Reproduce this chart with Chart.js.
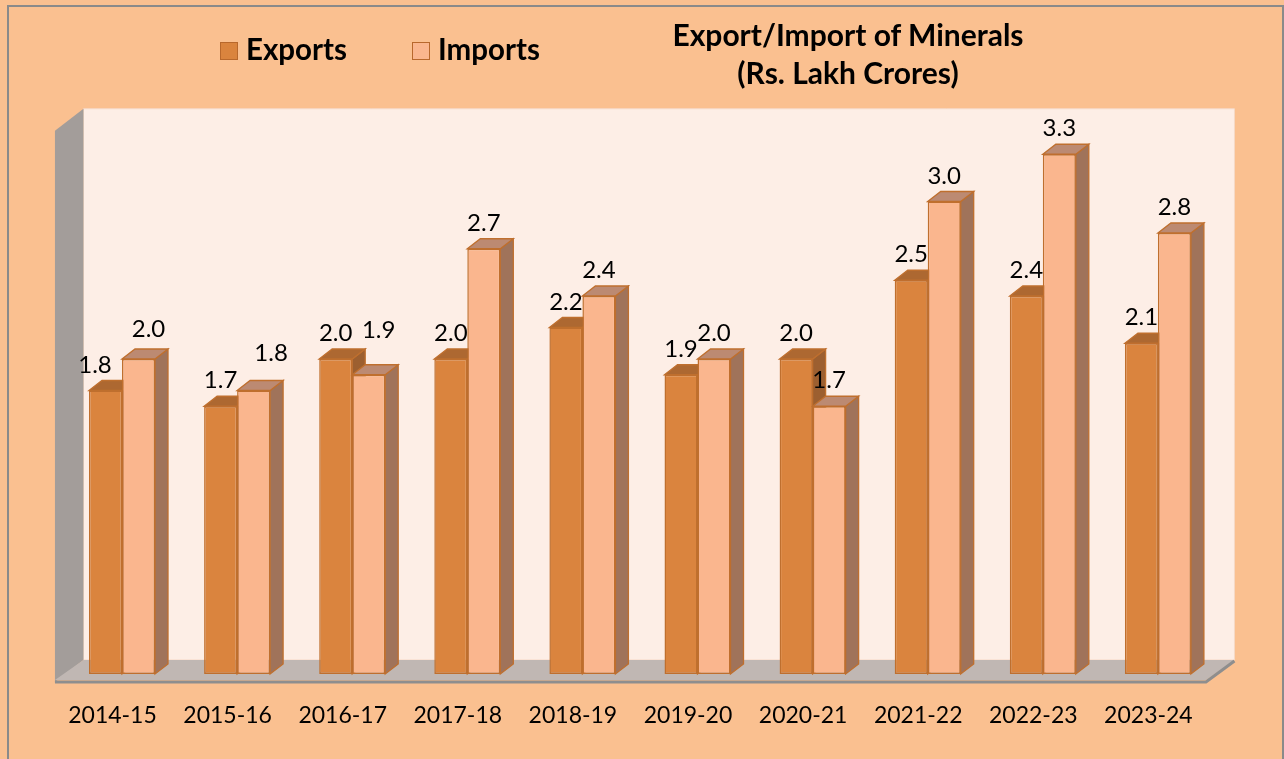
<!DOCTYPE html>
<html><head><meta charset="utf-8">
<script src="https://cdn.jsdelivr.net/npm/chart.js@4.4.1/dist/chart.umd.min.js"></script>
<style>
html,body{margin:0;padding:0;background:#FAC090;}
#wrap{position:relative;width:1284px;height:759px;overflow:hidden;}
canvas{position:absolute;left:0;top:0;}
.t{position:absolute;font-family:Lato,sans-serif;font-weight:700;color:#000;white-space:nowrap;}
.sw{position:absolute;width:16px;height:16px;border:1.5px solid #B8682C;}
</style></head><body>
<div id="wrap">
<canvas id="c" width="1284" height="759"></canvas>
<div class="sw" style="left:220px;top:42px;background:#DA843E"></div>
<div class="t" style="left:246px;top:32px;font-size:29.5px;line-height:34px">Exports</div>
<div class="sw" style="left:412px;top:42px;background:#FAB68E"></div>
<div class="t" style="left:438px;top:32px;font-size:29.5px;line-height:34px">Imports</div>
<div class="t" style="left:598px;top:15px;width:500px;text-align:center;font-size:30px;line-height:38px">Export/Import of Minerals<br>(Rs. Lakh Crores)</div>
</div>
<script>
const categories = ['2014-15','2015-16','2016-17','2017-18','2018-19','2019-20','2020-21','2021-22','2022-23','2023-24'];
const exportsValues = [1.8, 1.7, 2.0, 2.0, 2.2, 1.9, 2.0, 2.5, 2.4, 2.1];
const importsValues = [2.0, 1.8, 1.9, 2.7, 2.4, 2.0, 1.7, 3.0, 3.3, 2.8];
const seriesNames = ['Exports', 'Imports'];

const style = {
  front: ['#DA843E', '#FAB68E'],
  top: ['#AD6831', '#BC8A72'],
  side: ['#9C5F30', '#A0735A'],
  edge: '#BF6F2E',
  depth: {x: 13, y: -10},
  floorFront: {x: -9.5, y: 8},
  floorBack: {x: 19, y: -14},
  labelNudge: {'0-0': [-10.5, 0], '1-0': [10, -4.5], '1-1': [17.5, -11.5], '1-2': [10, -19]}
};

function poly(ctx, pts, fill, stroke, lw) {
  ctx.beginPath();
  ctx.moveTo(pts[0][0], pts[0][1]);
  for (let i = 1; i < pts.length; i++) ctx.lineTo(pts[i][0], pts[i][1]);
  ctx.closePath();
  if (fill) { ctx.fillStyle = fill; ctx.fill(); }
  if (stroke) { ctx.strokeStyle = stroke; ctx.lineWidth = lw || 1; ctx.stroke(); }
}

const scene = {
  id: 'scene',
  beforeDraw(chart) {
    const ctx = chart.ctx;
    ctx.save();
    ctx.fillStyle = '#FAC090';
    ctx.fillRect(0, 0, chart.width, chart.height);
    ctx.strokeStyle = '#8A8A8A';
    ctx.lineWidth = 2;
    ctx.strokeRect(8, 6, 1275, 760);
    ctx.restore();
  },
  beforeDatasetsDraw(chart) {
    const ctx = chart.ctx, a = chart.chartArea, ys = chart.scales.y;
    const L = a.left, R = a.right, B = ys.getPixelForValue(0);
    const fb = style.floorBack, ff = style.floorFront;
    const wallTop = ys.getPixelForValue(ys.max) + fb.y;
    ctx.save();
    poly(ctx, [[L+fb.x, wallTop], [R+fb.x, wallTop], [R+fb.x, B+fb.y], [L+fb.x, B+fb.y]], '#FDEEE6', '#F6D9C6', 1);
    const dy = ff.y - fb.y;
    poly(ctx, [[L+ff.x, wallTop+dy], [L+fb.x, wallTop], [L+fb.x, B+fb.y], [L+ff.x, B+ff.y]], '#A39D9A');
    poly(ctx, [[L+ff.x, B+ff.y-2], [L+fb.x, B+fb.y], [R+fb.x, B+fb.y], [R+ff.x, B+ff.y-2]], '#C0B7B3');
    ctx.beginPath();
    ctx.moveTo(L+ff.x, B+ff.y);
    ctx.lineTo(R+ff.x, B+ff.y);
    ctx.lineTo(R+fb.x, B+fb.y+1);
    ctx.strokeStyle = '#8E8E8E'; ctx.lineWidth = 3; ctx.stroke();
    const d = style.depth;
    for (let i = 0; i < categories.length; i++) {
      for (let s = 0; s < 2; s++) {
        const el = chart.getDatasetMeta(s).data[i];
        const l = el.x - el.width/2, r = el.x + el.width/2, t = el.y, b = el.base;
        poly(ctx, [[r, t], [r+d.x, t+d.y], [r+d.x, b+d.y], [r, b]], style.side[s], style.edge, 1.3);
        poly(ctx, [[l, t], [l+d.x, t+d.y], [r+d.x, t+d.y], [r, t]], style.top[s], style.edge, 1.3);
      }
    }
    ctx.restore();
  },
  afterDatasetsDraw(chart) {
    const ctx = chart.ctx;
    ctx.save();
    ctx.font = '24px Lato';
    ctx.fillStyle = '#000';
    ctx.textAlign = 'center';
    ctx.textBaseline = 'alphabetic';
    for (let s = 0; s < 2; s++) {
      const meta = chart.getDatasetMeta(s);
      const vals = chart.data.datasets[s].data;
      meta.data.forEach((el, i) => {
        const n = style.labelNudge[s + '-' + i] || [0, 0];
        ctx.fillText(vals[i].toFixed(1), el.x + n[0], el.y - 26.5 + 8.5 + n[1]);
      });
    }
    ctx.restore();
  }
};

new Chart(document.getElementById('c'), {
  type: 'bar',
  data: {
    labels: categories,
    datasets: [
      {label: seriesNames[0], data: exportsValues, backgroundColor: style.front[0], borderColor: style.edge, borderWidth: 1.5, borderSkipped: false},
      {label: seriesNames[1], data: importsValues, backgroundColor: style.front[1], borderColor: style.edge, borderWidth: 1.5, borderSkipped: false}
    ]
  },
  options: {
    responsive: false,
    animation: false,
    devicePixelRatio: 1,
    layout: {padding: {top: 122.75, bottom: 28.6, left: 64.45, right: 68.55}},
    plugins: {legend: {display: false}, title: {display: false}, tooltip: {enabled: false}},
    datasets: {bar: {categoryPercentage: 0.5734, barPercentage: 1}},
    scales: {
      x: {
        grid: {display: false, drawTicks: false},
        border: {display: false},
        ticks: {font: {family: 'Lato', size: 23}, color: '#000', padding: 28, labelOffset: -9.5},
        afterFit(scale) { scale.height = 56.4; }
      },
      y: {display: false, min: 0, max: 3.5}
    }
  },
  plugins: [scene]
});
</script>
</body></html>
